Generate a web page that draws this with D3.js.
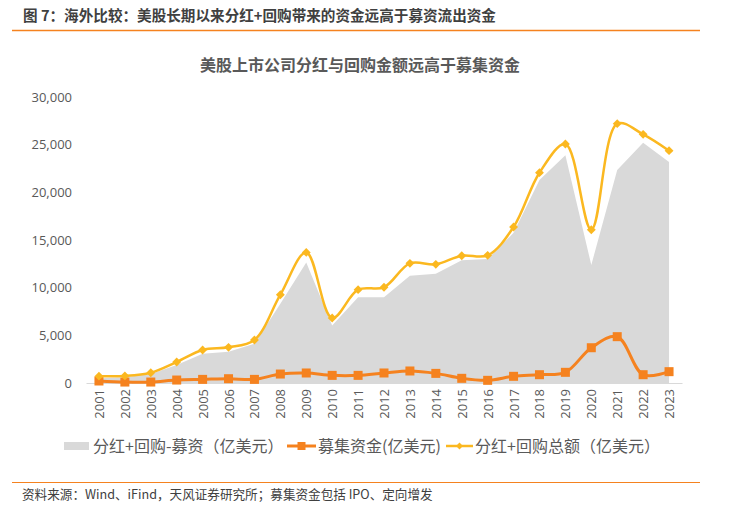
<!DOCTYPE html>
<html><head><meta charset="utf-8">
<script src="https://cdn.jsdelivr.net/npm/d3@7"></script>
<style>
body{margin:0;background:#fff;}
svg{display:block;font-family:"Noto Sans CJK SC","Noto Sans",sans-serif;}
</style></head>
<body><svg id="c" width="730" height="513"></svg>
<script>
const years = ["2001","2002","2003","2004","2005","2006","2007","2008","2009","2010","2011","2012","2013","2014","2015","2016","2017","2018","2019","2020","2021","2022","2023"];
const netFlow = [500,600,950,1900,3080,3290,4130,8320,12650,6020,8990,8990,11250,11470,12880,13000,15760,21300,23880,12380,22340,25200,23190];
const raised = [210,100,100,310,380,450,380,940,1050,800,800,1050,1260,1010,490,280,700,870,1120,3700,4860,870,1190];
const totalPayout = [720,740,1080,2200,3460,3740,4510,9260,13700,6820,9790,10040,12550,12450,13350,13390,16360,22060,25070,16080,27200,26080,24370];
const yTicks = [0,5000,10000,15000,20000,25000,30000];

const svg = d3.select("#c");
const ORANGE = "#F5821F", YELLOW = "#FBB820", GRAY = "#D9D9D9", TXT = "#595959";
const NUMFONT = "'Open Sans','Noto Sans',sans-serif";

// header
svg.append("text").attr("x",23).attr("y",21).attr("font-size",14.6).attr("font-weight","bold").attr("fill","#404040")
  .text("图 7：海外比较：美股长期以来分红+回购带来的资金远高于募资流出资金");
svg.append("line").attr("x1",12).attr("x2",700).attr("y1",30.5).attr("y2",30.5).attr("stroke","#F5821F").attr("stroke-width",1.5);

// chart title
svg.append("text").attr("x",360).attr("y",71).attr("text-anchor","middle").attr("font-size",16).attr("font-weight","bold").attr("fill",TXT)
  .text("美股上市公司分红与回购金额远高于募集资金");

const x = d3.scaleBand().domain(years).range([86,682]);
const cx = d => x(d) + x.bandwidth()/2;
const y = d3.scaleLinear().domain([0,30000]).range([383,97]);

// y axis labels
const yAxis = d3.axisLeft(y).tickValues(yTicks).tickFormat(d3.format(",")).tickSize(0).tickPadding(0);
const ga = svg.append("g").attr("transform","translate(72,0)").call(yAxis);
ga.select(".domain").remove();
ga.selectAll("text").attr("font-size",13).attr("fill",TXT).attr("font-family",NUMFONT);

// area
const area = d3.area().x((d,i)=>cx(years[i])).y0(y(0)).y1(d=>y(d));
svg.append("path").datum(netFlow).attr("d",area).attr("fill",GRAY);

// baseline axis
const xAxis = d3.axisBottom(x).tickSize(0).tickPadding(6);
const gx = svg.append("g").attr("transform","translate(0,"+y(0)+")").call(xAxis);
gx.select(".domain").attr("stroke","#D9D9D9").attr("stroke-width",1.2);
gx.selectAll(".tick text").remove();
gx.selectAll(".tick").append("text")
  .attr("transform","translate(0,6) rotate(-90)")
  .attr("text-anchor","end")
  .attr("dominant-baseline","central")
  .attr("font-size",13).attr("fill",TXT).attr("font-family",NUMFONT)
  .text(d=>d);

// lines
const line = d3.line().x((d,i)=>cx(years[i])).y(d=>y(d)).curve(d3.curveCatmullRom.alpha(0.5));
svg.append("path").datum(raised).attr("d",line).attr("fill","none").attr("stroke",ORANGE).attr("stroke-width",3);
svg.append("g").selectAll("rect").data(raised).join("rect")
  .attr("x",(d,i)=>cx(years[i])-4.5).attr("y",d=>y(d)-4.5).attr("width",9).attr("height",9).attr("fill",ORANGE);

svg.append("path").datum(totalPayout).attr("d",line).attr("fill","none").attr("stroke",YELLOW).attr("stroke-width",2.5);
const diamond = d3.symbol().type(d3.symbolDiamond2).size(50);
svg.append("g").selectAll("path").data(totalPayout).join("path")
  .attr("d",diamond).attr("transform",(d,i)=>`translate(${cx(years[i])},${y(d)})`).attr("fill",YELLOW);

// legend
const lg = svg.append("g");
lg.append("rect").attr("x",64).attr("y",442).attr("width",25).attr("height",8).attr("fill",GRAY);
lg.append("text").attr("x",93).attr("y",452).attr("font-size",16).attr("fill",TXT).text("分红+回购-募资（亿美元）");
lg.append("line").attr("x1",287).attr("x2",316).attr("y1",446).attr("y2",446).attr("stroke",ORANGE).attr("stroke-width",3);
lg.append("rect").attr("x",297.5).attr("y",442).attr("width",8).attr("height",8).attr("fill",ORANGE);
lg.append("text").attr("x",318).attr("y",452).attr("font-size",16).attr("fill",TXT).text("募集资金(亿美元)");
lg.append("line").attr("x1",446).attr("x2",473).attr("y1",446).attr("y2",446).attr("stroke",YELLOW).attr("stroke-width",2.5);
lg.append("path").attr("d",d3.symbol().type(d3.symbolDiamond2).size(30)).attr("transform","translate(459.5,446)").attr("fill",YELLOW);
lg.append("text").attr("x",475).attr("y",452).attr("font-size",16).attr("fill",TXT).text("分红+回购总额（亿美元）");

// footer
svg.append("line").attr("x1",12).attr("x2",700).attr("y1",482.5).attr("y2",482.5).attr("stroke","#F5821F").attr("stroke-width",1.2);
svg.append("text").attr("x",22).attr("y",499).attr("font-size",12.6).attr("fill","#404040")
  .text("资料来源：Wind、iFind，天风证券研究所；募集资金包括 IPO、定向增发");
</script></body></html>
